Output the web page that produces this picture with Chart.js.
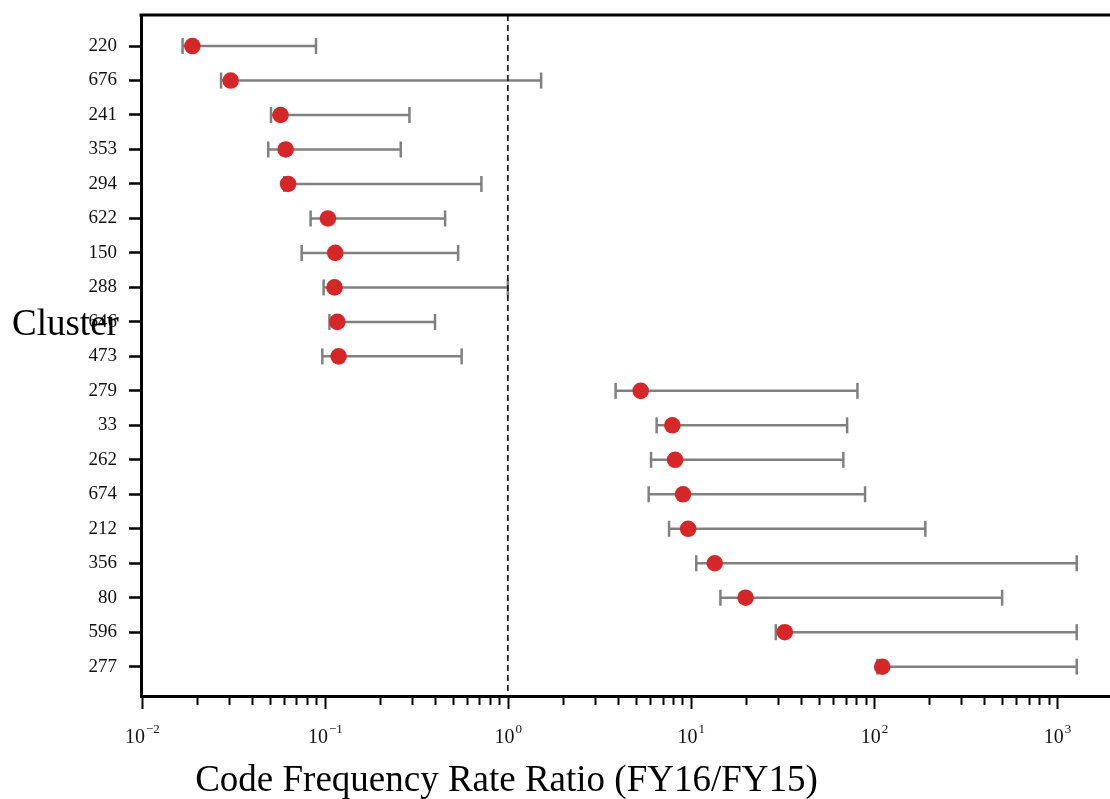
<!DOCTYPE html>
<html>
<head>
<meta charset="utf-8">
<script src="https://cdn.jsdelivr.net/npm/chart.js@4.4.1/dist/chart.umd.min.js"></script>
<style>
  html, body { margin: 0; padding: 0; background: #fff; overflow: hidden; }
  canvas { display: block; }
</style>
</head>
<body>
<canvas id="forest-chart" width="1110" height="799"></canvas>
<script>
// cluster ids, top to bottom
const clusters = ["220", "676", "241", "353", "294", "622", "150", "288", "646", "473",
  "279", "33", "262", "674", "212", "356", "80", "596", "277"];

// rate ratio (FY16/FY15) and its interval
const rateRatio = [0.0189, 0.0306, 0.0573, 0.0611, 0.063, 0.104, 0.114, 0.113, 0.117, 0.119,
  5.32, 7.92, 8.2, 9.06, 9.66, 13.5, 19.9, 32.6, 111];
const ciLower = [0.0167, 0.0271, 0.0508, 0.0491, 0.06, 0.0836, 0.0747, 0.0985, 0.106, 0.0969,
  3.88, 6.5, 6.06, 5.88, 7.6, 10.7, 14.5, 29.1, 104.5];
const ciUpper = [0.0895, 1.52, 0.29, 0.26, 0.717, 0.454, 0.535, 1.0, 0.4, 0.559,
  81.3, 71.4, 68.1, 89.5, 191, 1283, 502, 1283, 1283];

// x axis: decades that get a label
const xDecades = [-2, -1, 0, 1, 2, 3];
const xMin = 0.0099;
const xMax = 1950;
const refLine = 1;

const xTitle = "Code Frequency Rate Ratio (FY16/FY15)";
const yTitle = "Cluster";

const SERIF = "'Liberation Serif', 'Times New Roman', serif";
const BAR_GREY = "#808080";
const DOT_RED = "#d62728";

const errorBarSets = clusters.map((name, i) => ({
  label: `ci-${name}`,
  data: [{ x: ciLower[i], y: i }, { x: ciUpper[i], y: i }],
  showLine: true,
  borderColor: BAR_GREY,
  borderWidth: 2.5,
  pointStyle: "line",
  rotation: 90,
  pointRadius: 8,
  pointBorderWidth: 2.5,
  pointBorderColor: BAR_GREY,
  pointBackgroundColor: BAR_GREY,
  order: 3
}));

const refLineSet = {
  label: "ref",
  data: [{ x: refLine, y: -0.9 }, { x: refLine, y: 18.85 }],
  showLine: true,
  borderColor: "#222",
  borderWidth: 1.8,
  borderDash: [6, 4],
  pointRadius: 0,
  order: 2
};

const pointSet = {
  label: "rate ratio",
  data: rateRatio.map((v, i) => ({ x: v, y: i })),
  pointStyle: "circle",
  pointRadius: 8.3,
  pointBackgroundColor: DOT_RED,
  pointBorderColor: DOT_RED,
  pointBorderWidth: 0,
  order: 1
};

const axisDecor = {
  id: "axisDecor",
  afterDraw(chart) {
    const { ctx, chartArea } = chart;
    const x = chart.scales.x;
    ctx.save();

    // top spine
    ctx.strokeStyle = "#000";
    ctx.lineWidth = 3;
    ctx.beginPath();
    ctx.moveTo(chartArea.left - 1.5, chartArea.top);
    ctx.lineTo(chartArea.right, chartArea.top);
    ctx.stroke();

    // log ticks on the bottom axis
    ctx.lineWidth = 2;
    const base = chartArea.bottom + 1;
    xDecades.forEach((d) => {
      for (let m = 1; m < 10; m++) {
        const v = m * Math.pow(10, d);
        if (v < xMin || v > xMax) continue;
        const px = Math.round(x.getPixelForValue(v)) + 0.5;
        const len = m === 1 ? 12 : 8;
        ctx.beginPath();
        ctx.moveTo(px, base);
        ctx.lineTo(px, base + len);
        ctx.stroke();
      }
    });

    // decade labels 10^n
    ctx.fillStyle = "#111";
    ctx.textBaseline = "alphabetic";
    ctx.textAlign = "left";
    xDecades.forEach((d) => {
      const px = x.getPixelForValue(Math.pow(10, d));
      const exp = d < 0 ? "\u2212" + Math.abs(d) : String(d);
      ctx.font = `20px ${SERIF}`;
      const wBase = ctx.measureText("10").width;
      ctx.font = `13px ${SERIF}`;
      const wExp = ctx.measureText(exp).width;
      const start = px - (wBase + wExp) / 2;
      ctx.font = `20px ${SERIF}`;
      ctx.fillText("10", start, 743);
      ctx.font = `13px ${SERIF}`;
      ctx.fillText(exp, start + wBase + 1, 733);
    });

    // axis titles
    ctx.fillStyle = "#000";
    ctx.font = `37px ${SERIF}`;
    ctx.textAlign = "center";
    ctx.fillText(xTitle, 506.5, 791);
    ctx.textAlign = "left";
    ctx.fillText(yTitle, 12, 335);

    ctx.restore();
  }
};

new Chart(document.getElementById("forest-chart"), {
  type: "scatter",
  data: { datasets: [...errorBarSets, refLineSet, pointSet] },
  options: {
    responsive: false,
    animation: false,
    events: [],
    layout: { autoPadding: false, padding: { top: 15, left: 0, right: 0, bottom: 0 } },
    plugins: {
      legend: { display: false },
      tooltip: { enabled: false }
    },
    scales: {
      x: {
        type: "logarithmic",
        min: xMin,
        max: xMax,
        grid: { display: false },
        border: { display: true, color: "#000", width: 3 },
        ticks: { display: false },
        afterFit: (scale) => {
          scale.height = 103;
          scale.paddingLeft = 0;
          scale.paddingRight = 0;
        }
      },
      y: {
        type: "linear",
        reverse: true,
        min: -0.9,
        max: 18.85,
        afterBuildTicks: (scale) => {
          scale.ticks = clusters.map((_, i) => ({ value: i }));
        },
        afterFit: (scale) => {
          scale.width = 141;
          scale.paddingTop = 0;
          scale.paddingBottom = 0;
        },
        grid: {
          display: true,
          drawOnChartArea: false,
          drawTicks: true,
          tickLength: 12,
          tickColor: "#000",
          tickWidth: 2.5
        },
        border: { display: true, color: "#000", width: 3 },
        ticks: {
          padding: 12,
          color: "#111",
          font: { family: SERIF, size: 19 },
          callback: (value) => clusters[value] ?? ""
        }
      }
    }
  },
  plugins: [axisDecor]
});
</script>
</body>
</html>
